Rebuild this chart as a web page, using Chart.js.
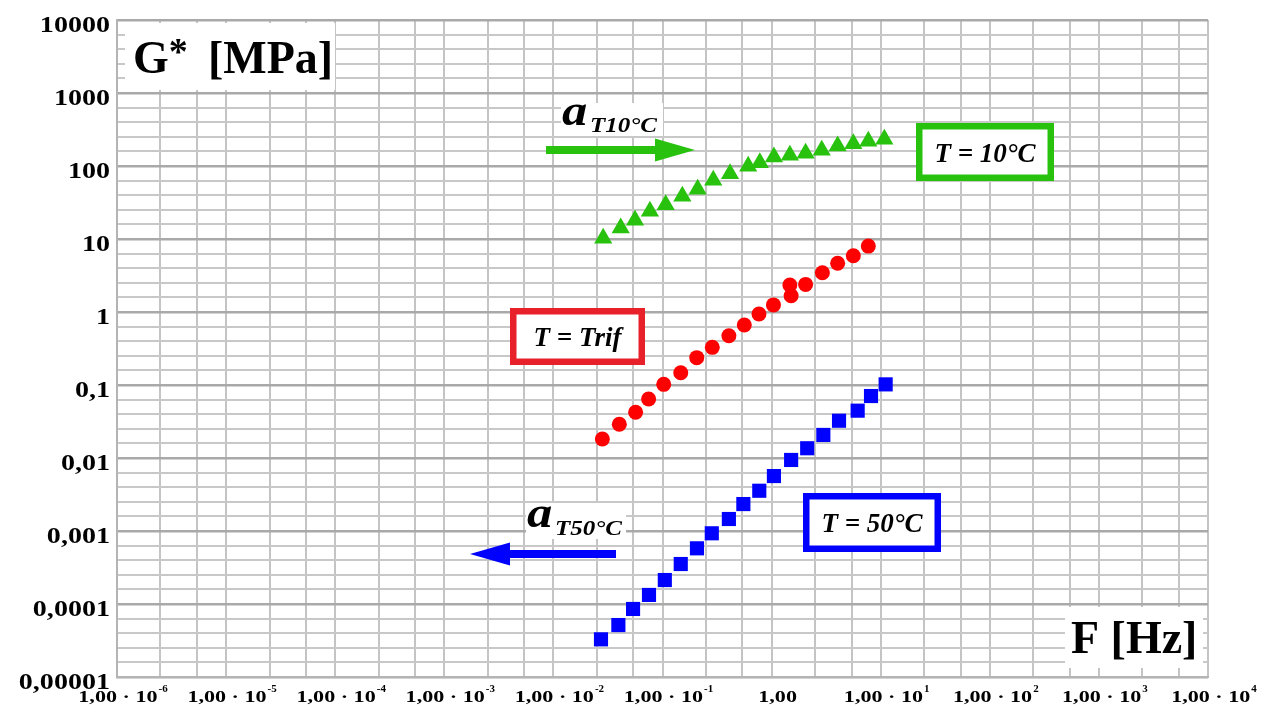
<!DOCTYPE html>
<html>
<head>
<meta charset="utf-8">
<title>G* – F</title>
<script src="https://cdn.jsdelivr.net/npm/chart.js@4.4.1/dist/chart.umd.min.js"></script>
<style>
  html, body { margin: 0; padding: 0; background: #ffffff; }
  #wrap { width: 1274px; height: 711px; }
</style>
</head>
<body>
<div id="wrap"><canvas id="chart" width="1274" height="711"></canvas></div>
<script>
// ---- axis labels ----
const yTickValues = [1e4, 1e3, 100, 10, 1, 0.1, 0.01, 0.001, 0.0001, 0.00001];
const yTickLabels = ['10000', '1000', '100', '10', '1', '0,1', '0,01', '0,001', '0,0001', '0,00001'];
const xTickValues = [1e-6, 1e-5, 1e-4, 1e-3, 1e-2, 1e-1, 1, 10, 100, 1000, 10000];
const xTickLabels = ['1,00 · 10^-6', '1,00 · 10^-5', '1,00 · 10^-4', '1,00 · 10^-3', '1,00 · 10^-2',
                     '1,00 · 10^-1', '1,00', '1,00 · 10^1', '1,00 · 10^2', '1,00 · 10^3', '1,00 · 10^4'];

// ---- T = 10°C (triangles) ----
const freq10 = [0.0286, 0.0414, 0.056, 0.0767, 0.107, 0.152, 0.210, 0.292, 0.416, 0.61,
                0.78, 1.05, 1.47, 2.05, 2.88, 4.03, 5.61, 7.7, 10.8];
const g10    = [10.2, 14.2, 18, 24, 29.5, 38.4, 48, 63.8, 78.6, 99.6,
                111, 133, 140, 150, 164, 188, 202, 218, 232];

// ---- T = Trif (circles) ----
const freqRef = [0.0281, 0.0402, 0.0567, 0.0746, 0.1026, 0.147, 0.206, 0.286, 0.406, 0.562,
                 0.766, 1.04, 1.47, 1.51, 2.05, 2.92, 4.03, 5.61, 7.7];
const gRef    = [0.0182, 0.029, 0.0423, 0.0643, 0.102, 0.147, 0.237, 0.328, 0.473, 0.664,
                 0.94, 1.25, 2.34, 1.67, 2.39, 3.45, 4.65, 5.9, 8.0];

// ---- T = 50°C (squares) ----
const freq50 = [0.0273, 0.0394, 0.0537, 0.0752, 0.105, 0.147, 0.207, 0.283, 0.406, 0.551,
                0.771, 1.05, 1.51, 2.12, 2.98, 4.15, 6.15, 8.15, 11.1];
const g50    = [3.28e-5, 5.15e-5, 8.55e-5, 1.33e-4, 2.13e-4, 3.53e-4, 5.79e-4, 9.3e-4, 1.46e-3, 2.34e-3,
                3.56e-3, 5.66e-3, 9.4e-3, 0.0136, 0.0207, 0.0324, 0.0445, 0.0706, 0.102];

const GREEN = '#28c20e';
const RED = '#ff0000';
const RED_BOX = '#e8202a';
const BLUE = '#0000ff';
const SERIF = '"Liberation Serif", "Times New Roman", serif';

const toPoints = (xs, ys) => xs.map((x, i) => ({ x: x, y: ys[i] }));

// grid positions: decades plus intermediate lines
const xGrid = [];
for (let d = -6; d <= 4; d++) {
  xGrid.push(Math.pow(10, d));
  if (d < 4) { xGrid.push(2.5 * Math.pow(10, d)); xGrid.push(5.4 * Math.pow(10, d)); }
}
const yGrid = [];
for (let d = -5; d <= 4; d++) {
  yGrid.push(Math.pow(10, d));
  if (d < 4) for (let j = 1; j <= 4; j++) yGrid.push(Math.pow(10, d + 0.2 * j));
}
const isDecade = v => Math.abs(Math.log10(v) - Math.round(Math.log10(v))) < 1e-6;

// text helper with optional horizontal stretch
function drawText(ctx, s, x, y, font, align, sx) {
  sx = sx || 1;
  ctx.save();
  ctx.font = font;
  ctx.textAlign = 'left';
  ctx.textBaseline = 'alphabetic';
  const w = ctx.measureText(s).width * sx;
  const x0 = align === 'center' ? x - w / 2 : align === 'right' ? x - w : x;
  ctx.translate(x0, y);
  ctx.scale(sx, 1);
  ctx.fillText(s, 0, 0);
  ctx.restore();
  return w;
}
function measure(ctx, s, font, sx) {
  ctx.save(); ctx.font = font;
  const w = ctx.measureText(s).width * (sx || 1);
  ctx.restore();
  return w;
}

// tick labels drawn beside the scales
const axisLabels = {
  id: 'axisLabels',
  afterDraw(chart) {
    const ctx = chart.ctx;
    const xs = chart.scales.x, ys = chart.scales.y;
    ctx.save();
    ctx.fillStyle = '#000000';
    yTickValues.forEach((v, i) => {
      const py = ys.getPixelForValue(v);
      drawText(ctx, yTickLabels[i], 110, py + 12, 'bold 23px ' + SERIF, 'right', 1.22);
    });
    const baseFont = 'bold 17px ' + SERIF, expFont = 'bold 10px ' + SERIF;
    xTickValues.forEach((v, i) => {
      const parts = xTickLabels[i].split('^');
      const px = xs.getPixelForValue(v) + 6;
      const wb = measure(ctx, parts[0], baseFont, 1.3);
      const we = parts[1] ? measure(ctx, parts[1], expFont, 1.1) + 1 : 0;
      const x0 = px - (wb + we) / 2;
      drawText(ctx, parts[0], x0, 702, baseFont, 'left', 1.3);
      if (parts[1]) drawText(ctx, parts[1], x0 + wb + 1, 692, expFont, 'left', 1.1);
    });
    ctx.restore();
  }
};

// titles, temperature boxes and shift arrows
const decorations = {
  id: 'decorations',
  afterDatasetsDraw(chart) {
    const ctx = chart.ctx;
    ctx.save();

    // axis titles on white patches
    ctx.fillStyle = '#ffffff';
    ctx.fillRect(125, 23, 210, 67);
    ctx.fillRect(1065, 607, 138, 61);
    ctx.fillStyle = '#000000';
    let w = drawText(ctx, 'G', 133, 73, 'bold 46px ' + SERIF, 'left');
    drawText(ctx, '*', 133 + w + 0, 64, 'bold 38px ' + SERIF, 'left');
    drawText(ctx, '[MPa]', 208, 73, 'bold 46px ' + SERIF, 'left');
    drawText(ctx, 'F [Hz]', 1071, 653, 'bold 46px ' + SERIF, 'left');

    // temperature boxes
    const boxes = [
      { x: 916, y: 123, w: 138, h: 58, color: GREEN, text: 'T = 10°C' },
      { x: 510, y: 308, w: 135, h: 57, color: RED_BOX, text: 'T = Trif' },
      { x: 803, y: 493, w: 138, h: 59, color: BLUE, text: 'T = 50°C' }
    ];
    boxes.forEach(b => {
      ctx.fillStyle = '#ffffff';
      ctx.fillRect(b.x, b.y, b.w, b.h);
      ctx.strokeStyle = b.color;
      ctx.lineWidth = 6.5;
      ctx.strokeRect(b.x + 3.25, b.y + 3.25, b.w - 6.5, b.h - 6.5);
      ctx.fillStyle = '#000000';
      drawText(ctx, b.text, b.x + b.w / 2, b.y + b.h / 2 + 9.5, 'italic bold 27px ' + SERIF, 'center');
    });

    // shift factor labels
    ctx.fillStyle = '#ffffff';
    ctx.fillRect(561, 103, 102, 33);
    ctx.fillRect(526, 503, 100, 36);
    ctx.fillStyle = '#000000';
    drawText(ctx, 'a', 562, 125, 'italic bold 44px ' + SERIF, 'left', 1.15);
    drawText(ctx, 'T10°C', 590, 132, 'italic bold 20px ' + SERIF, 'left', 1.25);
    drawText(ctx, 'a', 527, 527, 'italic bold 44px ' + SERIF, 'left', 1.15);
    drawText(ctx, 'T50°C', 555, 535, 'italic bold 20px ' + SERIF, 'left', 1.25);

    // arrows
    function arrow(x1, x2, y, color, dir) {
      ctx.fillStyle = color;
      const headLen = 40, half = 11.5, t = 8;
      if (dir > 0) {
        ctx.fillRect(x1, y - t / 2, (x2 - headLen) - x1 + 2, t);
        ctx.beginPath();
        ctx.moveTo(x2, y); ctx.lineTo(x2 - headLen, y - half); ctx.lineTo(x2 - headLen, y + half);
        ctx.closePath(); ctx.fill();
      } else {
        ctx.fillRect(x1 + headLen - 2, y - t / 2, x2 - (x1 + headLen) + 2, t);
        ctx.beginPath();
        ctx.moveTo(x1, y); ctx.lineTo(x1 + headLen, y - half); ctx.lineTo(x1 + headLen, y + half);
        ctx.closePath(); ctx.fill();
      }
    }
    arrow(546, 695, 150, GREEN, 1);
    arrow(470, 616, 554, BLUE, -1);

    ctx.restore();
  }
};

new Chart(document.getElementById('chart'), {
  type: 'scatter',
  data: {
    datasets: [
      { label: 'T = 10°C', data: toPoints(freq10, g10), pointStyle: 'triangle', pointRadius: 10.5,
        backgroundColor: GREEN, borderWidth: 0 },
      { label: 'T = Trif', data: toPoints(freqRef, gRef), pointStyle: 'circle', pointRadius: 7.5,
        backgroundColor: RED, borderWidth: 0 },
      { label: 'T = 50°C', data: toPoints(freq50, g50), pointStyle: 'rect', pointRadius: 10,
        backgroundColor: BLUE, borderWidth: 0 }
    ]
  },
  options: {
    responsive: false,
    animation: false,
    events: [],
    layout: { padding: { left: 117, right: 66, top: 20, bottom: 34 } },
    plugins: { legend: { display: false }, tooltip: { enabled: false } },
    scales: {
      x: {
        type: 'logarithmic', min: 1e-6, max: 1e4,
        afterBuildTicks: s => { s.ticks = xGrid.map(v => ({ value: v })); },
        ticks: { display: false },
        grid: { color: '#c4c4c4', lineWidth: 2, drawTicks: false },
        border: { color: '#b4b4b4', width: 2 }
      },
      y: {
        type: 'logarithmic', min: 1e-5, max: 1e4,
        afterBuildTicks: s => { s.ticks = yGrid.map(v => ({ value: v })); },
        ticks: { display: false },
        grid: {
          color: c => (c.tick && isDecade(c.tick.value)) ? '#a9a9a9' : '#c8c8c8',
          lineWidth: c => (c.tick && isDecade(c.tick.value)) ? 2.5 : 2,
          drawTicks: false
        },
        border: { color: '#b4b4b4', width: 2 }
      }
    }
  },
  plugins: [axisLabels, decorations]
});
</script>
</body>
</html>
